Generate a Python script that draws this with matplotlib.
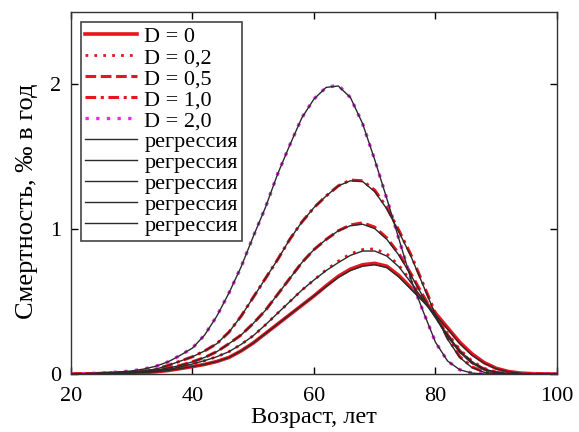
import matplotlib
matplotlib.use("Agg")
import matplotlib.pyplot as plt

age = [20, 22, 24, 26, 28, 30, 32, 34, 36, 38, 40, 42, 44, 46, 48, 50, 52, 54, 56, 58,
       60, 62, 64, 66, 68, 70, 72, 74, 76, 78, 80, 82, 84, 86, 88, 90, 92, 94, 96, 98, 100]

d0 = [0, 0.001, 0.002, 0.004, 0.006, 0.008, 0.011, 0.016, 0.025, 0.038, 0.052, 0.067, 0.087,
      0.115, 0.16, 0.215, 0.28, 0.345, 0.41, 0.475, 0.54, 0.61, 0.675, 0.725, 0.755, 0.765,
      0.745, 0.68, 0.595, 0.51, 0.42, 0.32, 0.22, 0.14, 0.08, 0.04, 0.018, 0.007, 0.003,
      0.001, 0]
d02 = [0, 0.002, 0.003, 0.005, 0.007, 0.01, 0.014, 0.021, 0.032, 0.05, 0.07, 0.093, 0.12,
       0.155, 0.205, 0.265, 0.34, 0.42, 0.50, 0.58, 0.65, 0.72, 0.78, 0.83, 0.86, 0.865,
       0.83, 0.75, 0.64, 0.52, 0.40, 0.28, 0.17, 0.09, 0.04, 0.015, 0.005, 0.001, 0, 0, 0]
d05 = [0, 0.002, 0.004, 0.006, 0.009, 0.012, 0.018, 0.028, 0.042, 0.06, 0.085, 0.115, 0.155,
       0.21, 0.27, 0.35, 0.44, 0.55, 0.66, 0.77, 0.86, 0.93, 0.99, 1.03, 1.045, 1.015, 0.94,
       0.83, 0.69, 0.54, 0.40, 0.27, 0.16, 0.08, 0.035, 0.012, 0.004, 0.001, 0, 0, 0]
d1 = [0, 0.002, 0.004, 0.006, 0.01, 0.015, 0.022, 0.035, 0.06, 0.09, 0.12, 0.16, 0.21, 0.29,
      0.40, 0.53, 0.66, 0.79, 0.93, 1.05, 1.15, 1.23, 1.30, 1.34, 1.335, 1.27, 1.15, 0.99,
      0.82, 0.62, 0.42, 0.25, 0.12, 0.05, 0.015, 0.004, 0.001, 0, 0, 0, 0]
d2 = [0, 0.003, 0.006, 0.01, 0.015, 0.022, 0.035, 0.055, 0.085, 0.13, 0.18, 0.27, 0.40,
      0.56, 0.74, 0.95, 1.15, 1.38, 1.58, 1.77, 1.90, 1.98, 1.995, 1.91, 1.73, 1.48, 1.21,
      0.93, 0.65, 0.43, 0.22, 0.09, 0.03, 0.007, 0.001, 0, 0, 0, 0, 0, 0]

# regression fits (thin black curves)
r0 = [0, 0.001, 0.002, 0.004, 0.006, 0.008, 0.011, 0.016, 0.025, 0.038, 0.052, 0.067, 0.087,
      0.115, 0.16, 0.215, 0.28, 0.345, 0.41, 0.475, 0.54, 0.605, 0.668, 0.715, 0.745, 0.755,
      0.735, 0.67, 0.585, 0.50, 0.41, 0.31, 0.21, 0.13, 0.075, 0.037, 0.016, 0.006, 0.002,
      0.001, 0]
r02 = [0, 0.002, 0.003, 0.005, 0.007, 0.01, 0.014, 0.021, 0.032, 0.05, 0.07, 0.093, 0.12,
       0.155, 0.205, 0.265, 0.34, 0.42, 0.50, 0.58, 0.65, 0.715, 0.77, 0.82, 0.85, 0.85,
       0.815, 0.74, 0.63, 0.51, 0.39, 0.27, 0.16, 0.085, 0.036, 0.013, 0.004, 0.001, 0, 0, 0]
r05 = [0, 0.002, 0.004, 0.006, 0.009, 0.012, 0.018, 0.028, 0.042, 0.06, 0.085, 0.115, 0.155,
       0.21, 0.27, 0.35, 0.44, 0.55, 0.66, 0.77, 0.86, 0.93, 0.99, 1.025, 1.035, 1.005, 0.93,
       0.82, 0.68, 0.53, 0.39, 0.26, 0.15, 0.075, 0.03, 0.01, 0.003, 0.001, 0, 0, 0]
r1 = [0, 0.002, 0.004, 0.006, 0.01, 0.015, 0.022, 0.035, 0.06, 0.09, 0.12, 0.16, 0.21, 0.29,
      0.40, 0.53, 0.66, 0.79, 0.93, 1.05, 1.15, 1.23, 1.30, 1.335, 1.33, 1.26, 1.14, 0.98,
      0.81, 0.61, 0.41, 0.24, 0.115, 0.045, 0.013, 0.003, 0.001, 0, 0, 0, 0]
r2 = [0, 0.003, 0.006, 0.01, 0.015, 0.022, 0.035, 0.055, 0.085, 0.13, 0.18, 0.27, 0.40,
      0.56, 0.74, 0.95, 1.15, 1.38, 1.58, 1.77, 1.90, 1.98, 1.99, 1.91, 1.73, 1.48, 1.21,
      0.93, 0.65, 0.43, 0.22, 0.09, 0.03, 0.007, 0.001, 0, 0, 0, 0, 0, 0]

labels = ["D = 0", "D = 0,2", "D = 0,5", "D = 1,0", "D = 2,0"]
reg_label = "регрессия"
xticks = [20, 40, 60, 80, 100]
yticks = [0, 1, 2]

plt.rcParams['font.family'] = ['Liberation Serif', 'DejaVu Serif']

fig = plt.figure(figsize=(5.79, 4.32), dpi=100)
ax = fig.add_axes([0.1226, 0.134, 0.8394, 0.838])

red = '#e8141e'
ax.plot(age, d0, color=red, lw=2.6, ls='-', label=labels[0])
ax.plot(age, d02, color=red, lw=2.0, ls=(0, (1, 2.2)), label=labels[1])
ax.plot(age, d05, color=red, lw=2.2, ls=(0, (3.5, 1.5)), label=labels[2])
ax.plot(age, d1, color=red, lw=2.2, ls=(0, (3.5, 1.5, 1, 1.5)), label=labels[3])
ax.plot(age, d2, color='#e030e0', lw=2.4, ls=(0, (1, 2.2)), label=labels[4])
for r in (r0, r02, r05, r1, r2):
    ax.plot(age, r, color='#2a2a2a', lw=1.0, ls='-', label=reg_label)

ax.set_xlim(20, 100)
ax.set_ylim(0, 2.5)
ax.set_xticks(xticks)
ax.set_yticks(yticks)
ax.set_xticklabels([str(t) for t in xticks])
ax.set_yticklabels([str(t) for t in yticks])
ax.tick_params(direction='in', top=True, right=True, length=5, width=1, labelsize=16)
ax.tick_params(axis='x', pad=9)
ax.tick_params(axis='y', pad=7)
for s in ax.spines.values():
    s.set_linewidth(1.0)
    s.set_color('#333333')

ax.set_xlabel("Возраст, лет", fontsize=17.5, labelpad=1)
ax.set_ylabel("Смертность, ‰ в год", fontsize=19)
ax.yaxis.set_label_coords(-0.068, 0.478)

leg = ax.legend(loc='upper left', bbox_to_anchor=(0.0, 1.0), fontsize=16, frameon=True,
                fancybox=False, edgecolor='#444444', framealpha=1, handlelength=2.3,
                handletextpad=0.35, labelspacing=0.02, borderpad=0.2, borderaxespad=0.45)
leg.get_frame().set_linewidth(1.2)

fig.savefig("out.png", dpi=100)
